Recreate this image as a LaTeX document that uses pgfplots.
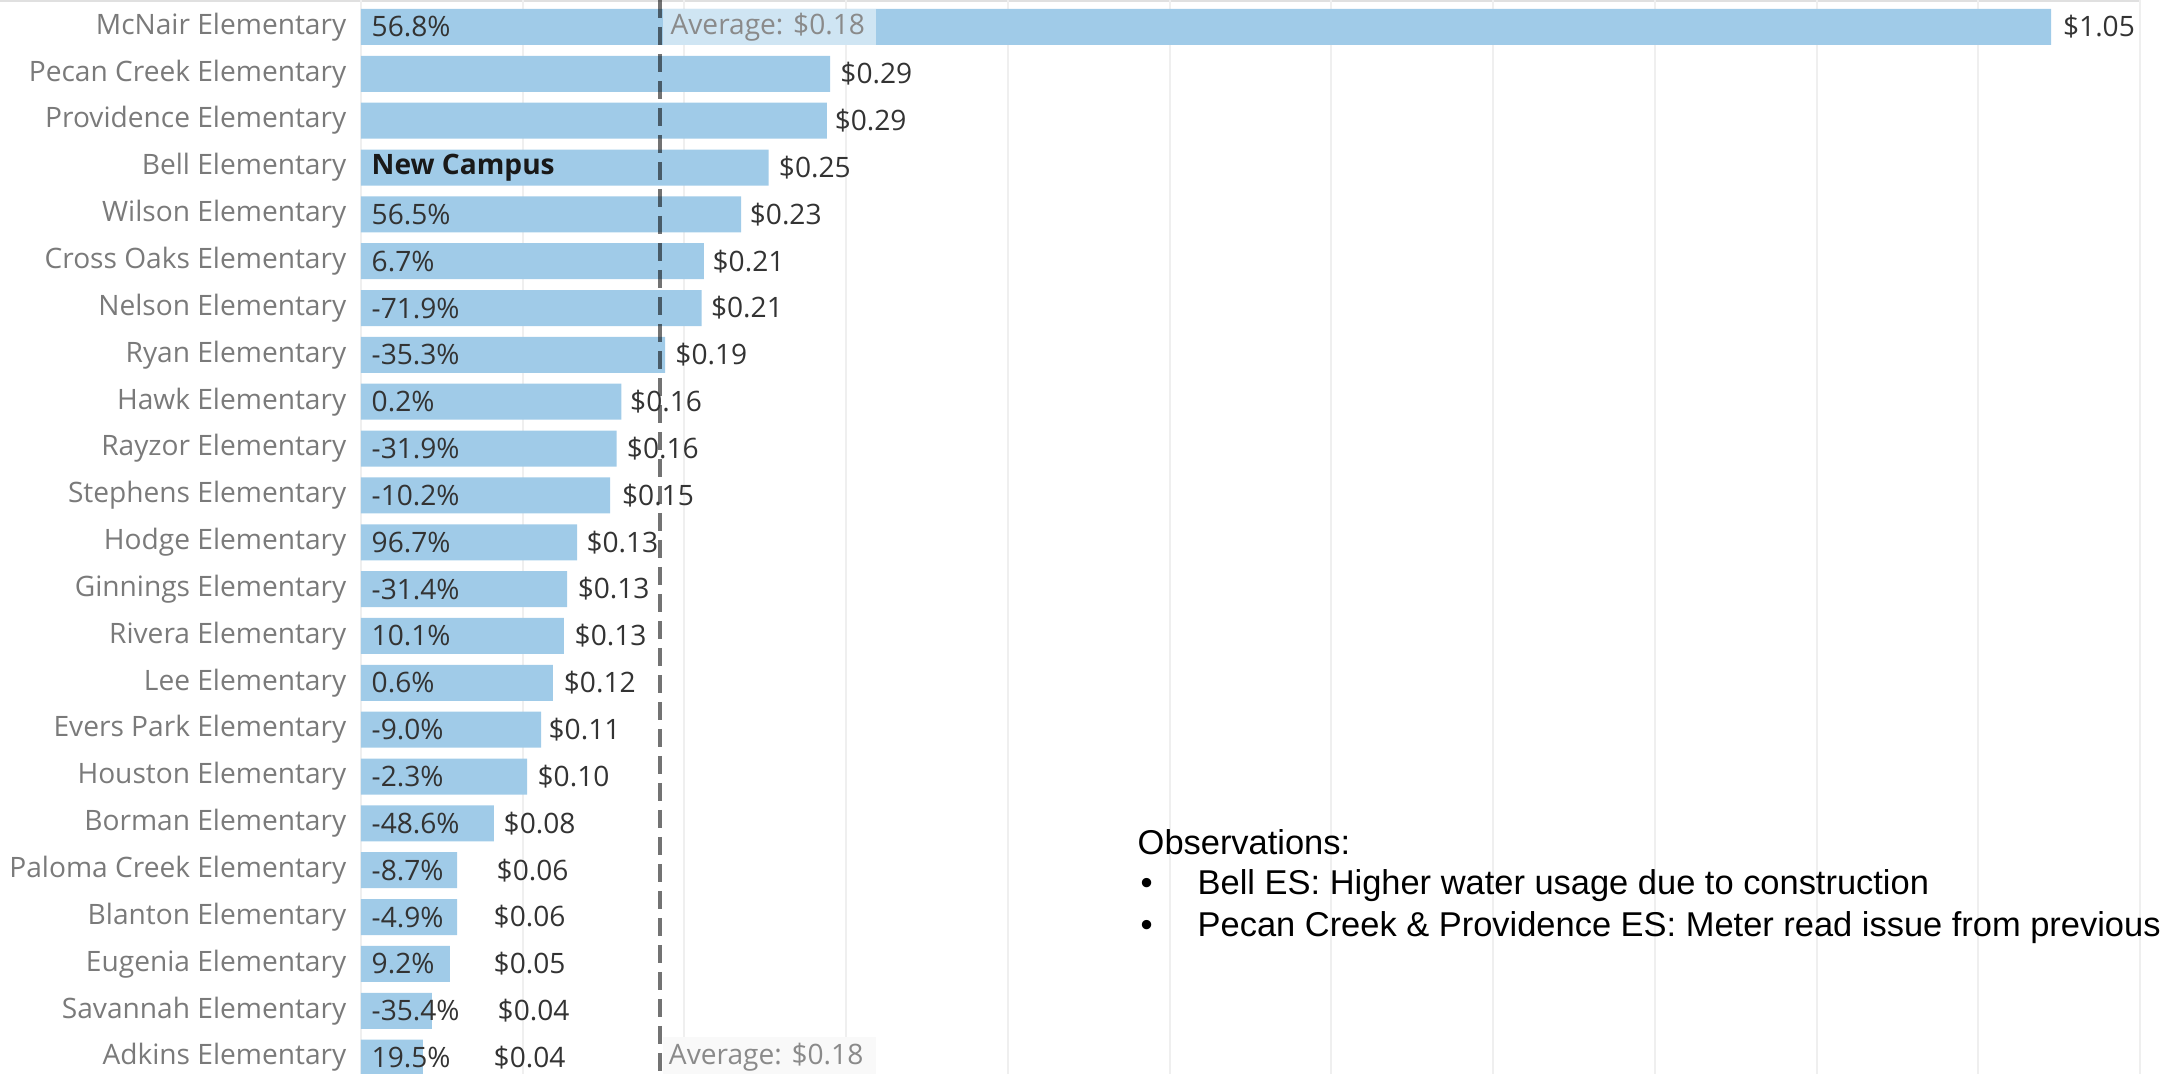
\documentclass[border=0pt]{standalone}
\usepackage{fontspec}
\setmainfont{Open Sans}
\newfontfamily\obsfont{Liberation Sans}
\usepackage{pgfplots}
\pgfplotsset{compat=1.18}
\usepackage{pgfplotstable}

\definecolor{barblue}{HTML}{A0CBE8}
\definecolor{catgray}{HTML}{7A7A7A}
\definecolor{txtdark}{HTML}{333333}
\definecolor{avggray}{HTML}{8A8A8A}
\definecolor{gridgray}{HTML}{EFEFEF}

% row, bar value, x of value label, value label, change label
\pgfplotstableread[col sep=comma]{
row,val,lx,vlab,plab
0,1.045,1.052,\$1.05,56.8\%
1,0.290,0.296,\$0.29,{}
2,0.288,0.2925,\$0.29,{}
3,0.252,0.258,\$0.25,{\bfseries\color{black!90}New Campus}
4,0.235,0.240,\$0.23,56.5\%
5,0.212,0.217,\$0.21,6.7\%
6,0.2106,0.216,\$0.21,-71.9\%
7,0.188,0.194,\$0.19,-35.3\%
8,0.161,0.166,\$0.16,0.2\%
9,0.158,0.164,\$0.16,-31.9\%
10,0.154,0.161,\$0.15,-10.2\%
11,0.1336,0.139,\$0.13,96.7\%
12,0.1274,0.1336,\$0.13,-31.4\%
13,0.1255,0.1317,\$0.13,10.1\%
14,0.1187,0.125,\$0.12,0.6\%
15,0.1113,0.1156,\$0.11,-9.0\%
16,0.1027,0.1088,\$0.10,-2.3\%
17,0.0822,0.0878,\$0.08,-48.6\%
18,0.0594,0.0835,\$0.06,-8.7\%
19,0.0594,0.0816,\$0.06,-4.9\%
20,0.055,0.0816,\$0.05,9.2\%
21,0.0439,0.0841,\$0.04,-35.4\%
22,0.0383,0.0816,\$0.04,19.5\%
}\schools

\begin{document}
\begin{tikzpicture}
\path[use as bounding box] (0,0) rectangle (21.64,10.74);
% thin border at the top of the view
\draw[line width=0.02cm, draw=black!12] (0,10.725) -- (21.40,10.725);
\begin{axis}[
    at={(3.61cm,0cm)}, anchor=south west,
    scale only axis,
    width=17.79cm, height=10.74cm,
    xmin=0, xmax=1.1,
    ymin=-0.576, ymax=22.35,
    y dir=reverse,
    clip=false,
    axis line style={draw=none},
    major tick length=0pt,
    xtick={0,0.1,...,1.1},
    xticklabels={},
    xmajorgrids,
    grid style={line width=0.02cm, draw=gridgray},
    ytick={0,...,22},
    yticklabels={McNair Elementary, Pecan Creek Elementary, Providence Elementary,
      Bell Elementary, Wilson Elementary, Cross Oaks Elementary, Nelson Elementary,
      Ryan Elementary, Hawk Elementary, Rayzor Elementary, Stephens Elementary,
      Hodge Elementary, Ginnings Elementary, Rivera Elementary, Lee Elementary,
      Evers Park Elementary, Houston Elementary, Borman Elementary,
      Paloma Creek Elementary, Blanton Elementary, Eugenia Elementary,
      Savannah Elementary, Adkins Elementary},
    yticklabel style={font=\fontsize{8}{9.6}\selectfont, text=catgray,
      inner sep=0pt, xshift=-0.14cm},
]
% bars
\addplot[xbar, bar width=0.36cm, fill=barblue, draw=none]
  table[x=val, y=row] {\schools};

% change labels at the start of each bar
\addplot[only marks, mark=none, point meta=explicit symbolic,
  nodes near coords,
  every node near coord/.append style={anchor=west, inner sep=0pt,
    xshift=0.1cm, font=\fontsize{8}{9.6}\selectfont, text=txtdark}]
  table[x expr=0, y=row, meta=plab] {\schools};

% cost labels after each bar
\addplot[only marks, mark=none, point meta=explicit symbolic,
  nodes near coords,
  every node near coord/.append style={anchor=west, inner sep=0pt,
    font=\fontsize{8}{9.6}\selectfont, text=txtdark}]
  table[x=lx, y=row, meta=vlab] {\schools};

% average reference line and its labels
\fill[white, opacity=0.5] (axis cs:0.1868,-0.385) rectangle (axis cs:0.3187,0.385);
\node[anchor=west, inner sep=0pt, font=\fontsize{8}{9.6}\selectfont, text=avggray]
  at (axis cs:0.191,0) {Average: \$0.18};
\fill[black!2.5] (axis cs:0.1868,21.55) rectangle (axis cs:0.3187,22.35);
\node[anchor=west, inner sep=0pt, font=\fontsize{8}{9.6}\selectfont, text=avggray]
  at (axis cs:0.19,22) {Average: \$0.18};
\addplot[black, opacity=0.55, line width=0.045cm,
  dash pattern=on 0.18cm off 0.09cm]
  coordinates {(0.185,-0.576) (0.185,22.35)};
\end{axis}

% observations note
\begin{scope}[every node/.style={anchor=base west, inner sep=0pt,
    font=\obsfont\fontsize{9.8}{11.8}\selectfont}]
\node at (11.37,2.19) {Observations:};
\node at (11.40,1.79) {\textbullet};
\node at (11.97,1.79) {Bell ES: Higher water usage due to construction};
\node at (11.40,1.37) {\textbullet};
\node at (11.97,1.37) {Pecan Creek \& Providence ES: Meter read issue from previous};
\end{scope}
\end{tikzpicture}
\end{document}
